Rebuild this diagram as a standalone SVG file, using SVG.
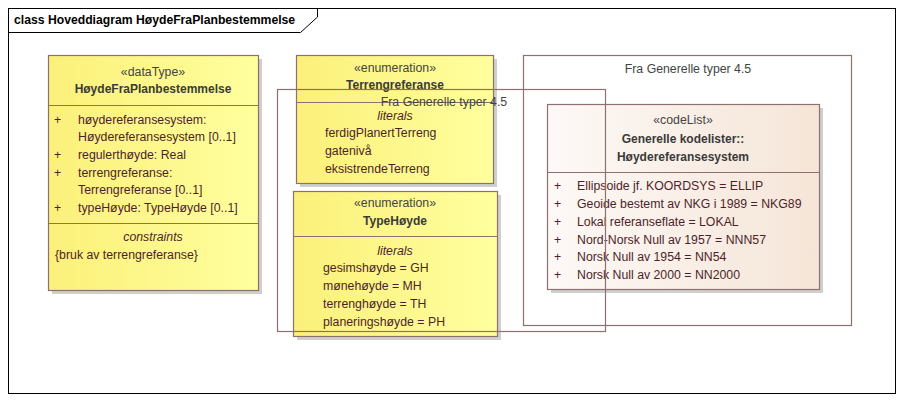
<svg xmlns="http://www.w3.org/2000/svg" width="903" height="401" viewBox="0 0 903 401">
<defs>
<linearGradient id="gy" x1="0" y1="0" x2="1" y2="0"><stop offset="0" stop-color="#FBF07A"/><stop offset="1" stop-color="#FFFF9E"/></linearGradient>
<linearGradient id="gc" x1="0" y1="0" x2="1" y2="0"><stop offset="0" stop-color="#FDF9F7"/><stop offset="1" stop-color="#F5E5D7"/></linearGradient>
<style>
text{font-family:"Liberation Sans",Arial,sans-serif;font-size:12.3px;fill:#3a3a3a}
.t{font-weight:bold;fill:#000;font-size:12.2px}
.st{fill:#444;text-anchor:middle}
.nm{font-weight:bold;fill:#3a3a3a;text-anchor:middle;font-size:12px}
.a{fill:#4E1F2A}
.it{font-style:italic;fill:#4E1F2A;text-anchor:middle}
.pk{fill:#444;text-anchor:middle}
.box{stroke:#8F7070;stroke-width:1.2}
.sh{fill:#cfcfcf}
.ln{stroke:#8F7070;stroke-width:1.2;fill:none}
.pkg{fill:none;stroke:#8F7070;stroke-width:1.2}
</style>
</defs>
<rect width="903" height="401" fill="#fff"/>
<g id="frame">
<rect x="8.5" y="8.5" width="887" height="385" fill="none" stroke="#000" stroke-width="1"/>
<path d="M8.5 32.5 H300.5 L317.5 17 V8.5" fill="none" stroke="#000" stroke-width="1"/>
<text x="14" y="24" class="t">class Hoveddiagram HøydeFraPlanbestemmelse</text>
</g>
<g id="pkg2">
<rect x="523.5" y="55.5" width="328" height="270" class="pkg"/>
<text x="688" y="73" class="pk">Fra Generelle typer 4.5</text>
</g>
<g id="HoydeFraPlanbestemmelse">
<rect x="52" y="59" width="210" height="235" class="sh"/>
<rect x="48.5" y="55.5" width="210" height="235" fill="url(#gy)" class="box"/>
<line x1="48.5" y1="105.5" x2="258.5" y2="105.5" class="ln"/>
<line x1="48.5" y1="223.5" x2="258.5" y2="223.5" class="ln"/>
<text x="153" y="76" class="st">«dataType»</text>
<text x="153" y="93" class="nm">HøydeFraPlanbestemmelse</text>
<text x="54" y="124" class="a">+</text><text x="78" y="124" class="a">høydereferansesystem:</text>
<text x="78" y="141" class="a">Høydereferansesystem [0..1]</text>
<text x="54" y="159" class="a">+</text><text x="78" y="159" class="a">regulerthøyde: Real</text>
<text x="54" y="177" class="a">+</text><text x="78" y="177" class="a">terrengreferanse:</text>
<text x="78" y="194" class="a">Terrengreferanse [0..1]</text>
<text x="54" y="212" class="a">+</text><text x="78" y="212" class="a">typeHøyde: TypeHøyde [0..1]</text>
<text x="153" y="241" class="it">constraints</text>
<text x="55" y="259" class="a">{bruk av terrengreferanse}</text>
</g>
<g id="Terrengreferanse">
<rect x="300" y="59" width="197" height="128" class="sh"/>
<rect x="296.5" y="55.5" width="197" height="128" fill="url(#gy)" class="box"/>
<line x1="296.5" y1="102.5" x2="493.5" y2="102.5" class="ln"/>
<text x="395" y="72" class="st">«enumeration»</text>
<text x="395" y="89" class="nm">Terrengreferanse</text>
<text x="395" y="119.5" class="it">literals</text>
<text x="325" y="137" class="a">ferdigPlanertTerreng</text>
<text x="325" y="155" class="a">gatenivå</text>
<text x="325" y="173" class="a">eksistrendeTerreng</text>
</g>
<g id="TypeHoyde">
<rect x="297" y="195" width="204" height="145" class="sh"/>
<rect x="293.5" y="191.5" width="204" height="145" fill="url(#gy)" class="box"/>
<line x1="293.5" y1="236.5" x2="497.5" y2="236.5" class="ln"/>
<text x="395" y="207" class="st">«enumeration»</text>
<text x="395" y="225" class="nm">TypeHøyde</text>
<text x="395" y="255" class="it">literals</text>
<text x="323" y="272" class="a">gesimshøyde = GH</text>
<text x="323" y="290" class="a">mønehøyde = MH</text>
<text x="323" y="308" class="a">terrenghøyde = TH</text>
<text x="323" y="326" class="a">planeringshøyde = PH</text>
</g>
<g id="Hoydereferansesystem">
<rect x="551" y="108" width="272" height="185" class="sh"/>
<rect x="547.5" y="104.5" width="272" height="185" fill="url(#gc)" class="box"/>
<line x1="547.5" y1="172.5" x2="819.5" y2="172.5" class="ln"/>
<text x="683" y="124" class="st">«codeList»</text>
<text x="683" y="143" class="nm">Generelle kodelister::</text>
<text x="683" y="161" class="nm">Høydereferansesystem</text>
<text x="554" y="190" class="a">+</text><text x="577" y="190" class="a">Ellipsoide jf. KOORDSYS = ELLIP</text>
<text x="554" y="208" class="a">+</text><text x="577" y="208" class="a">Geoide bestemt av NKG i 1989 = NKG89</text>
<text x="554" y="226" class="a">+</text><text x="577" y="226" class="a">Lokal referanseflate = LOKAL</text>
<text x="554" y="244" class="a">+</text><text x="577" y="244" class="a">Nord-Norsk Null av 1957 = NNN57</text>
<text x="554" y="261" class="a">+</text><text x="577" y="261" class="a">Norsk Null av 1954 = NN54</text>
<text x="554" y="279" class="a">+</text><text x="577" y="279" class="a">Norsk Null av 2000 = NN2000</text>
</g>
<g id="pkg1">
<rect x="277.5" y="89.5" width="328" height="242" class="pkg"/>
<text x="444" y="106" class="pk">Fra Generelle typer 4.5</text>
</g>
<g id="connectors"></g>
</svg>
